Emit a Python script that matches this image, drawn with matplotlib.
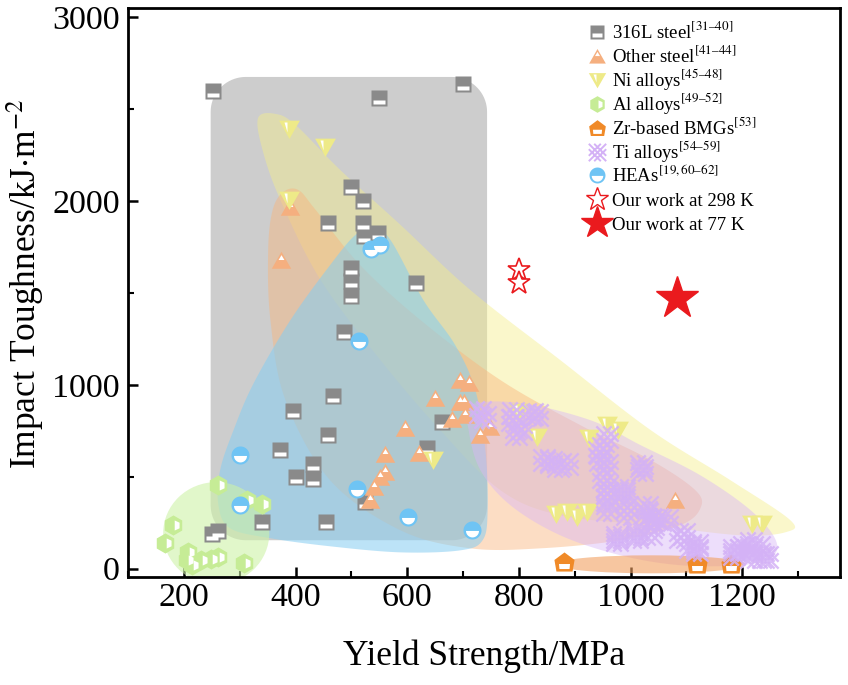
import numpy as np
import matplotlib
matplotlib.use('Agg')
import matplotlib.pyplot as plt
from matplotlib.path import Path
from matplotlib.patches import PathPatch, Ellipse
from matplotlib.ticker import MultipleLocator

plt.rcParams['font.family'] = ['Liberation Serif', 'DejaVu Serif']
plt.rcParams['mathtext.fontset'] = 'stix'

# ---------------- data ----------------
steel316_x = [253, 550, 700, 500, 520, 458, 520, 523, 548, 500, 500, 500, 616, 486, 467,
              459, 396, 372, 400, 432, 432, 340, 454, 250, 262, 525, 635, 663]
steel316_y = [2600, 2562, 2635, 2078, 2000, 1879, 1879, 1811, 1828, 1637, 1565, 1485, 1552, 1289, 940,
              730, 860, 645, 500, 572, 490, 254, 254, 190, 205, 365, 654, 799]

other_x = [374, 390, 694, 710, 650, 694, 680, 704, 596, 731, 749, 621, 561, 561, 552, 540, 533, 1079, 701]
other_y = [1680, 1970, 1026, 1008, 926, 907, 817, 835, 768, 726, 771, 627, 623, 526, 499, 445, 372, 372, 907]

ni_x = [389, 453, 388, 646, 833, 800, 958, 978, 925, 866, 886, 904, 922, 1218, 1236]
ni_y = [2390, 2296, 2005, 590, 717, 853, 781, 754, 713, 300, 309, 281, 309, 245, 245]

al_x = [262, 313, 340, 181, 166, 208, 230, 248, 262, 307, 206, 215]
al_y = [454, 372, 350, 236, 140, 91, 46, 55, 64, 33, 46, 18]

zr_x = [880, 1119, 1179]
zr_y = [36, 28, 24]

ti_x = [731, 740, 790, 788, 824, 833, 794, 803, 845, 857, 886, 870,
        958, 951, 943, 946, 958, 951, 958, 958, 988, 988, 958, 994, 958, 994, 1029,
        1020, 1018, 1036, 1027, 1048, 976, 1012, 976, 1012, 1036, 1041, 1066, 1089,
        1095, 1107, 1119, 1119, 1185, 1197, 1203, 1215, 1230, 1215, 1238, 1245, 1185]
ti_y = [853, 826, 846, 808, 844, 835, 735, 760, 590, 581, 572, 560,
        717, 655, 635, 590, 563, 499, 445, 410, 427, 410, 372, 336, 318, 300, 336,
        536, 560, 263, 309, 273, 173, 191, 155, 173, 191, 245, 263, 173,
        191, 118, 127, 100, 100, 100, 118, 138, 118, 64, 64, 64, 82]

hea_x = [300, 300, 510, 602, 716, 535, 552, 513]
hea_y = [617, 345, 436, 281, 209, 1740, 1760, 1240]

work298_x = [800, 800]
work298_y = [1624, 1553]
work77_x = [1084]
work77_y = [1472]

labels = ['316L steel$^{\\mathrm{[31\u201340]}}$',
          'Other steel$^{\\mathrm{[41\u201344]}}$',
          'Ni alloys$^{\\mathrm{[45\u201348]}}$',
          'Al alloys$^{\\mathrm{[49\u201352]}}$',
          'Zr-based BMGs$^{\\mathrm{[53]}}$',
          'Ti alloys$^{\\mathrm{[54\u201359]}}$',
          'HEAs$^{\\mathrm{[19,60\u201362]}}$',
          'Our work at 298 K',
          'Our work at 77 K']

# region outlines (data coordinates)
ni_reg_x = [333, 364, 400, 480, 588, 713, 874, 1036, 1179, 1286, 1278, 1197, 1036, 874, 767, 659, 552, 445, 373, 341]
ni_reg_y = [2452, 2474, 2414, 2169, 1870, 1516, 1135, 754, 481, 264, 199, 182, 237, 291, 427, 754, 1135, 1570, 2005, 2277]
st_reg_x = [378, 405, 436, 516, 624, 767, 910, 1036, 1116, 1125, 1089, 982, 839, 713, 588, 462, 382, 355, 351, 359]
st_reg_y = [2049, 2060, 1952, 1651, 1352, 1026, 781, 591, 427, 329, 237, 155, 111, 111, 209, 481, 917, 1353, 1733, 1951]
hea_reg_x = [538, 570, 629, 686, 722, 740, 744, 735, 695, 588, 462, 355, 283, 262, 265, 289, 325, 391, 462, 507]
hea_reg_y = [1853, 1788, 1461, 1216, 971, 645, 318, 155, 100, 89, 122, 166, 220, 345, 536, 754, 1009, 1353, 1652, 1815]
ti_reg_x = [713, 803, 928, 1018, 1125, 1215, 1260, 1251, 1197, 1089, 982, 874, 785, 731, 710]
ti_reg_y = [890, 901, 808, 672, 508, 318, 155, 57, 19, 19, 73, 182, 345, 536, 754]
gray_box = (248, 743, 155, 2675)
al_circle = (258, 193, 190, 556)
zr_ellipse = (1036, 24, 340, 98)


def smooth_closed(xs, ys, n=24):
    P = np.column_stack([xs, ys]).astype(float)
    m = len(P)
    out = []
    t = np.linspace(0, 1, n, endpoint=False)[:, None]
    for i in range(m):
        p0, p1, p2, p3 = P[i - 1], P[i], P[(i + 1) % m], P[(i + 2) % m]
        pts = 0.5 * ((2 * p1) + (-p0 + p2) * t + (2 * p0 - 5 * p1 + 4 * p2 - p3) * t ** 2
                     + (-p0 + 3 * p1 - 3 * p2 + p3) * t ** 3)
        out.append(pts)
    return np.vstack(out)


def rounded_rect(x0, x1, y0, y1, rx, ry, n=20):
    pts = []
    corners = [(x1 - rx, y1 - ry, 0, 90), (x0 + rx, y1 - ry, 90, 180),
               (x0 + rx, y0 + ry, 180, 270), (x1 - rx, y0 + ry, 270, 360)]
    for cx, cy, a0, a1 in corners:
        a = np.radians(np.linspace(a0, a1, n))
        pts.append(np.column_stack([cx + rx * np.cos(a), cy + ry * np.sin(a)]))
    return np.vstack(pts)


# ---------------- markers ----------------
ANCH = [(-1, -1), (1, 1)]


def mk(polys, closed=True):
    verts, codes = [], []
    for a in ANCH:
        verts.append(a); codes.append(Path.MOVETO)
    for poly in polys:
        verts.append(poly[0]); codes.append(Path.MOVETO)
        for v in poly[1:]:
            verts.append(v); codes.append(Path.LINETO)
        if closed:
            verts.append(poly[0]); codes.append(Path.CLOSEPOLY)
    return Path(verts, codes)


sq_m = mk([[(-1, -1), (1, -1), (1, 1), (-1, 1)]])
sq_w = mk([[(-0.7, -0.7), (0.7, -0.7), (0.7, -0.2), (-0.7, -0.2)]])
up_m = mk([[(-1, -0.85), (1, -0.85), (0, 0.9)]])
up_w = mk([[(-0.3, 0.05), (0.3, 0.05), (0, 0.55)]])
dn_m = mk([[(-1, 0.85), (1, 0.85), (0, -0.9)]])
dn_w = mk([[(-0.5, 0.7), (-0.15, 0.7), (-0.15, -0.25)]])
ang = np.radians(np.arange(90, 450, 60))
hx_m = mk([list(zip(np.cos(ang), np.sin(ang)))])
hx_w = mk([[(0.12, 0.5), (0.6, 0.28), (0.6, -0.28), (0.12, -0.5)]])
ca = np.radians(np.linspace(0, 360, 40, endpoint=False))
ci_m = mk([list(zip(np.cos(ca), np.sin(ca)))])
ha = np.radians(np.linspace(180, 360, 20))
ci_w = mk([list(zip(0.72 * np.cos(ha), -0.05 + 0.72 * np.sin(ha)))])
pe_m = mk([[(-0.8, -0.9), (0.8, -0.9), (1, 0.25), (0, 1), (-1, 0.25)]])
pe_w = mk([[(-0.5, -0.65), (0.5, -0.65), (0.55, -0.15), (-0.55, -0.15)]])
ti_lines = []
for c in (-0.62, 0.0, 0.62):
    ti_lines.append([(max(-1, -1 - c), max(-1, -1 - c) + c), (min(1, 1 - c), min(1, 1 - c) + c)])
    ti_lines.append([(max(-1, -1 + c), -max(-1, -1 + c) + c), (min(1, 1 + c), -min(1, 1 + c) + c)])
ti_m = mk(ti_lines, closed=False)

C_316 = '#8a8a8a'
C_OTH = '#f5af7f'
C_NI = '#eeea88'
C_AL = '#c6ec96'
C_ZR = '#f08a28'
C_TI = '#d4b2f6'
C_HEA = '#6fc4f4'
C_RED = '#ea1a1e'

# ---------------- figure ----------------
fig = plt.figure(figsize=(8.48, 6.85), dpi=100)
ax = fig.add_axes([128 / 848, 1 - 577 / 685, 712 / 848, 569 / 685])
ax.set_xlim(100, 1375)
ax.set_ylim(-45, 3050)

ax.add_patch(PathPatch(Path(rounded_rect(*gray_box, 63, 190), closed=False),
                       facecolor='#cdcdcd', edgecolor='none', zorder=1))
for (rx, ry, col, al) in [(ni_reg_x, ni_reg_y, '#f4ee8c', 0.45),
                          (st_reg_x, st_reg_y, '#f9b57c', 0.45),
                          (hea_reg_x, hea_reg_y, '#86cdf2', 0.55),
                          (ti_reg_x, ti_reg_y, '#d9b6f7', 0.45)]:
    pts = smooth_closed(rx, ry)
    ax.add_patch(plt.Polygon(pts, closed=True, facecolor=col, edgecolor='none', alpha=al, zorder=2))
ax.add_patch(Ellipse(al_circle[:2], al_circle[2], al_circle[3], facecolor='#cdf2a8',
                     edgecolor='none', alpha=0.6, zorder=2))
ax.add_patch(Ellipse(zr_ellipse[:2], zr_ellipse[2], zr_ellipse[3], facecolor='#f2a061',
                     edgecolor='none', alpha=0.6, zorder=2))


def pair(x, y, m1, m2, col, ms, z, **kw):
    ax.plot(x, y, ls='none', marker=m1, ms=ms, mfc=col, mec='none', zorder=z, **kw)
    ax.plot(x, y, ls='none', marker=m2, ms=ms, mfc='white', mec='none', zorder=z, **kw)


pair(steel316_x, steel316_y, sq_m, sq_w, C_316, 11.5, 3)
pair(other_x, other_y, up_m, up_w, C_OTH, 14, 4)
pair(ni_x, ni_y, dn_m, dn_w, C_NI, 15, 5)
pair(al_x, al_y, hx_m, hx_w, C_AL, 14.5, 5)
pair(zr_x, zr_y, pe_m, pe_w, C_ZR, 14.5, 6)
ax.plot(ti_x, ti_y, ls='none', marker=ti_m, ms=16, mfc='none', mec=C_TI, mew=1.7, alpha=0.85, zorder=6)
pair(hea_x, hea_y, ci_m, ci_w, C_HEA, 13, 7)
ax.plot(work298_x, work298_y, ls='none', marker='*', ms=17, mfc='white', mec=C_RED, mew=1.2, zorder=8)
ax.plot(work77_x, work77_y, ls='none', marker='*', ms=32, mfc=C_RED, mec=C_RED, zorder=8)

# axes styling
for s in ax.spines.values():
    s.set_linewidth(2.0)
ax.xaxis.set_major_locator(MultipleLocator(200))
ax.xaxis.set_minor_locator(MultipleLocator(100))
ax.yaxis.set_major_locator(MultipleLocator(1000))
ax.yaxis.set_minor_locator(MultipleLocator(500))
ax.tick_params(which='major', direction='in', length=7, width=1.8, labelsize=24.5)
ax.tick_params(which='minor', direction='in', length=4, width=1.5)
ax.tick_params(axis='x', which='major', pad=4)
ax.tick_params(axis='y', which='major', pad=6)
ax.set_xticks([200, 400, 600, 800, 1000, 1200])
ax.set_yticks([0, 1000, 2000, 3000])

ax.set_xlabel('Yield Strength/MPa', fontsize=25.5)
ax.set_ylabel('Impact Toughness/kJ$\\cdot$m$^{-2}$', fontsize=25.5)
ax.xaxis.set_label_coords(0.5, -0.11)
ax.yaxis.set_label_coords(-0.114, 0.515)

# manual legend (positions in pixels from the top-left of the figure)
leg_top_px = 32
leg_step_px = 23.9
leg_marker_px = 597
leg_text_px = 612
H = 685.0
specs = [
    ('pair', sq_m, sq_w, C_316, 9.5),
    ('pair', up_m, up_w, C_OTH, 12),
    ('pair', dn_m, dn_w, C_NI, 12.5),
    ('pair', hx_m, hx_w, C_AL, 12),
    ('pair', pe_m, pe_w, C_ZR, 12),
    ('ti', ti_m, None, C_TI, 12.5),
    ('pair', ci_m, ci_w, C_HEA, 11.5),
    ('hstar', '*', None, C_RED, 17),
    ('fstar', '*', None, C_RED, 24),
]
for i, ((kind, m1, m2, col, ms), lab) in enumerate(zip(specs, labels)):
    ypx = leg_top_px + i * leg_step_px
    fx = leg_marker_px / 848.0
    fy = 1 - ypx / H
    kw = dict(transform=fig.transFigure, clip_on=False, ls='none', zorder=10)
    if kind == 'pair':
        ax.plot([fx], [fy], marker=m1, ms=ms, mfc=col, mec='none', **kw)
        ax.plot([fx], [fy], marker=m2, ms=ms, mfc='white', mec='none', **kw)
    elif kind == 'ti':
        ax.plot([fx], [fy], marker=m1, ms=ms, mfc='none', mec=col, mew=1.4, **kw)
    elif kind == 'hstar':
        ax.plot([fx], [fy], marker='*', ms=ms, mfc='white', mec=col, mew=1.0, **kw)
    else:
        ax.plot([fx], [fy], marker='*', ms=ms, mfc=col, mec=col, **kw)
    fig.text(leg_text_px / 848.0, 1 - (ypx + 6.5) / H, lab, fontsize=13.5,
             ha='left', va='baseline')

fig.savefig('out.png', dpi=100)
